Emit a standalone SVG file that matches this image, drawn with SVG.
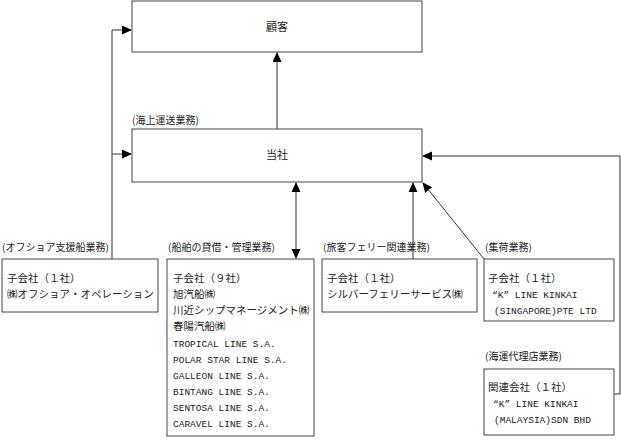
<svg xmlns="http://www.w3.org/2000/svg" width="621" height="442" viewBox="0 0 621 442">
<style>
.box{fill:#fff;stroke:#444;stroke-width:1}
.ln{fill:none;stroke:#333;stroke-width:1}
.jp{font-family:"Noto Sans CJK JP","Liberation Serif",sans-serif;font-size:10.5px;fill:#222}
.lb{font-family:"Noto Sans CJK JP","Liberation Serif",sans-serif;font-size:10px;fill:#222}
.en{font-family:"Liberation Mono","Noto Sans CJK JP",monospace;font-size:9.5px;fill:#222}
.ct{font-family:"Noto Sans CJK JP",sans-serif;font-size:11px;fill:#222;text-anchor:middle}
</style>
<defs>
<marker id="ah" markerWidth="10" markerHeight="10" refX="9" refY="4.5" orient="auto" markerUnits="userSpaceOnUse">
<path d="M0,0 L10,4.5 L0,9 Z" fill="#000"/>
</marker>
<marker id="as" markerWidth="10" markerHeight="10" refX="1" refY="4.5" orient="auto" markerUnits="userSpaceOnUse">
<path d="M10,0 L0,4.5 L10,9 Z" fill="#000"/>
</marker>
</defs>
<g id="connectors">
<line class="ln" x1="277" y1="129" x2="277" y2="53" marker-end="url(#ah)"/>
<polyline class="ln" points="112,259 112,30 131,30" marker-end="url(#ah)"/>
<line class="ln" x1="112" y1="154" x2="131" y2="154" marker-end="url(#ah)"/>
<line class="ln" x1="296" y1="183" x2="296" y2="258" marker-start="url(#as)" marker-end="url(#ah)"/>
<line class="ln" x1="413" y1="259" x2="413" y2="183" marker-end="url(#ah)"/>
<line class="ln" x1="484" y1="259" x2="423" y2="183" marker-end="url(#ah)"/>
<polyline class="ln" points="614,394 620,394 620,156 423,156" marker-end="url(#ah)"/>
</g>
<g id="customer">
<rect class="box" x="132" y="1" width="290" height="51"/>
<text class="ct" x="277" y="31">顧客</text>
</g>
<g id="company">
<text class="lb" x="132" y="124">(海上運送業務)</text>
<rect class="box" x="132" y="129" width="290" height="53"/>
<text class="ct" x="277" y="159">当社</text>
</g>
<g id="offshore">
<text class="lb" x="2" y="251">(オフショア支援船業務)</text>
<rect class="box" x="2" y="259" width="156" height="53"/>
<text class="jp" x="7" y="282">子会社（１社）</text>
<text class="jp" x="7" y="298">㈱オフショア・オペレーション</text>
</g>
<g id="ship-lease">
<text class="lb" x="168" y="251">(船舶の貸借・管理業務)</text>
<rect class="box" x="167" y="259" width="147" height="177"/>
<text class="jp" x="173" y="282">子会社（９社）</text>
<text class="jp" x="173" y="298">旭汽船㈱</text>
<text class="jp" x="173" y="314">川近シップマネージメント㈱</text>
<text class="jp" x="173" y="330">春陽汽船㈱</text>
<text class="en" x="173" y="347">TROPICAL LINE S.A.</text>
<text class="en" x="173" y="363">POLAR STAR LINE S.A.</text>
<text class="en" x="173" y="379">GALLEON LINE S.A.</text>
<text class="en" x="173" y="395">BINTANG LINE S.A.</text>
<text class="en" x="173" y="411">SENTOSA LINE S.A.</text>
<text class="en" x="173" y="427">CARAVEL LINE S.A.</text>
</g>
<g id="ferry">
<text class="lb" x="323" y="251">(旅客フェリー関連業務)</text>
<rect class="box" x="322" y="259" width="155" height="53"/>
<text class="jp" x="327" y="282">子会社（１社）</text>
<text class="jp" x="327" y="298">シルバーフェリーサービス㈱</text>
</g>
<g id="cargo">
<text class="lb" x="485" y="251">(集荷業務)</text>
<rect class="box" x="484" y="259" width="130" height="62"/>
<text class="jp" x="488" y="282">子会社（１社）</text>
<text class="en" x="492" y="298">“K” LINE KINKAI</text>
<text class="en" x="494" y="314">(SINGAPORE)PTE LTD</text>
</g>
<g id="agency">
<text class="lb" x="485" y="360">(海運代理店業務)</text>
<rect class="box" x="484" y="369" width="130" height="66"/>
<text class="jp" x="488" y="391">関連会社（１社）</text>
<text class="en" x="493" y="407">“K” LINE KINKAI</text>
<text class="en" x="494" y="423">(MALAYSIA)SDN BHD</text>
</g>
</svg>
